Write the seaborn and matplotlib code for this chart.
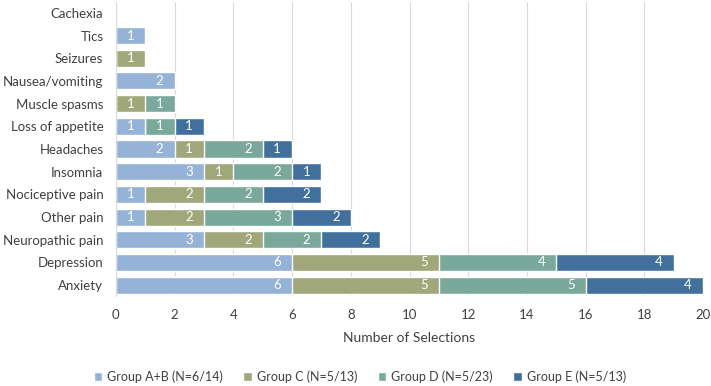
import numpy as np
import pandas as pd
import matplotlib
matplotlib.use('Agg')
import matplotlib.pyplot as plt
import seaborn as sns

sns.set_style('white')
plt.rcParams['font.family'] = ['Lato', 'DejaVu Sans']

# data (top to bottom as shown)
categories = ['Cachexia', 'Tics', 'Seizures', 'Nausea/vomiting', 'Muscle spasms',
              'Loss of appetite', 'Headaches', 'Insomnia', 'Nociceptive pain',
              'Other pain', 'Neuropathic pain', 'Depression', 'Anxiety']
group_ab = [0, 1, 0, 2, 0, 1, 2, 3, 1, 1, 3, 6, 6]
group_c = [0, 0, 1, 0, 1, 0, 1, 1, 2, 2, 2, 5, 5]
group_d = [0, 0, 0, 0, 1, 1, 2, 2, 2, 3, 2, 4, 5]
group_e = [0, 0, 0, 0, 0, 1, 1, 1, 2, 2, 2, 4, 4]
groups = ['Group A+B (N=6/14)', 'Group C (N=5/13)', 'Group D (N=5/23)', 'Group E (N=5/13)']
colors = ['#95B3D7', '#A0A77B', '#7AA99B', '#41709C']

df = pd.DataFrame({'category': categories, groups[0]: group_ab, groups[1]: group_c,
                   groups[2]: group_d, groups[3]: group_e})
cum = df[groups].cumsum(axis=1)

fig, ax = plt.subplots(figsize=(7.11, 3.86), dpi=100)
fig.subplots_adjust(left=0.163, right=0.989, top=0.996, bottom=0.232)

# stacked bars: draw cumulative totals from back to front
for i in range(len(groups) - 1, -1, -1):
    sns.barplot(x=cum[groups[i]], y=df['category'], color=colors[i], orient='h',
                width=0.75, ax=ax, label=groups[i], saturation=1)

# segment labels near the inside end
for i, g in enumerate(groups):
    for j, v in enumerate(df[g]):
        if v > 0:
            ax.annotate(str(v), xy=(cum[g].iloc[j], j), xytext=(-8, 0),
                        textcoords='offset points', ha='right', va='center',
                        color='white', fontsize=9.5)

ax.set_xlim(0, 20)
ax.set_xticks(range(0, 21, 2))
ax.xaxis.grid(True, color='#D9D9D9', linewidth=0.8)
ax.set_axisbelow(True)
for s in ['top', 'right', 'bottom']:
    ax.spines[s].set_visible(False)
ax.spines['left'].set_color('#D9D9D9')
ax.tick_params(axis='both', length=0, labelsize=9.5, labelcolor='#404040')
ax.tick_params(axis='x', pad=9)
ax.tick_params(axis='y', pad=9)
ax.set_ylabel('')
ax.set_xlabel('Number of Selections', fontsize=10, color='#404040', labelpad=8)

handles, labels = ax.get_legend_handles_labels()
order = [labels.index(g) for g in groups]
ax.legend().remove()
fig.legend([handles[k] for k in order], groups, loc='center',
           bbox_to_anchor=(0.506, 0.024), ncol=4, frameon=False, fontsize=9,
           handlelength=0.7, handleheight=0.7, columnspacing=1.6, handletextpad=0.4,
           labelcolor='#404040')

fig.savefig('out.png', dpi=100)
